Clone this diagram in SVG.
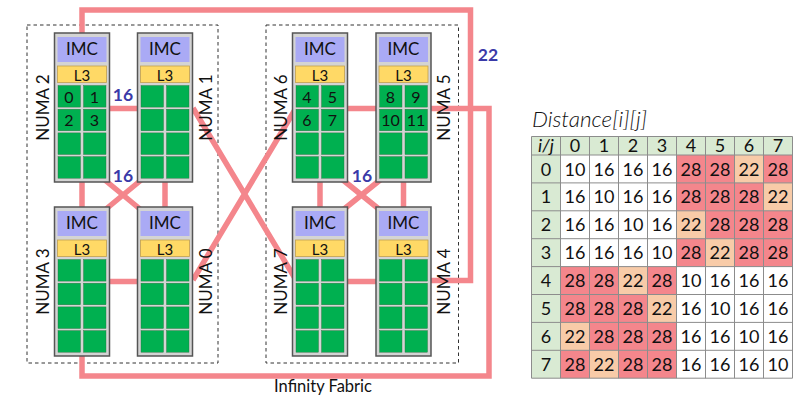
<svg xmlns="http://www.w3.org/2000/svg" xmlns:xlink="http://www.w3.org/1999/xlink" width="807" height="396" viewBox="0 0 807 396">
<style>
text{font-family:Lato,"Noto Sans","Liberation Sans",sans-serif;fill:#111}
.box{fill:none;stroke:#333;stroke-width:1;stroke-dasharray:3.5,3}
.link{fill:none;stroke:#f4868c;stroke-width:5.5}
.shell{fill:#d4d4d4;stroke:#555;stroke-width:1.5}
.imc{fill:#aaaaf5}
.l3{fill:#ffd966;stroke:#c0a050;stroke-width:0.8}
.core{fill:#00b050;stroke:#2f6f3f;stroke-width:0.4}
.t-imc{font-size:17px;text-anchor:middle}
.t-l3{font-size:15px;text-anchor:middle}
.t-core{font-size:16px;text-anchor:middle}
.numa{font-size:17px;text-anchor:middle}
.w{font-size:17.5px;font-weight:bold;fill:#3a3aa8;text-anchor:middle}
.hd{fill:#d9ead3}
.rd{fill:#f4868c}
.pc{fill:#f8cba8}
.grid{stroke:#8c8c8c;stroke-width:1}
.tv{font-size:18px;text-anchor:middle}
</style>
<defs>
<g id="node">
<rect class="shell" x="0" y="0" width="55" height="149"/>
<rect class="imc" x="3" y="4" width="49" height="25"/>
<rect class="l3" x="3" y="33" width="49" height="16.5"/>
<rect class="core" x="3.5" y="52.5" width="22.5" height="21.6"/>
<rect class="core" x="29" y="52.5" width="22.5" height="21.6"/>
<rect class="core" x="3.5" y="76.2" width="22.5" height="21.6"/>
<rect class="core" x="29" y="76.2" width="22.5" height="21.6"/>
<rect class="core" x="3.5" y="99.9" width="22.5" height="21.6"/>
<rect class="core" x="29" y="99.9" width="22.5" height="21.6"/>
<rect class="core" x="3.5" y="123.6" width="22.5" height="21.6"/>
<rect class="core" x="29" y="123.6" width="22.5" height="21.6"/>
</g>
</defs>
<rect x="0" y="0" width="807" height="396" fill="#ffffff"/>

<g id="groups">
<rect class="box" x="27" y="25" width="191" height="338"/>
<rect class="box" x="266" y="25" width="192.5" height="338"/>
</g>

<g id="connectors">
<path class="link" d="M82 33 V10 H470.5 V280.5 H431"/>
<path class="link" d="M82 356 V376 H489 V108.5 H431"/>
<path class="link" d="M109 108.5 H138 M109 281.5 H138"/>
<path class="link" d="M82 182 V207 M165 182 V207"/>
<path class="link" d="M100 176 L146 214 M146 176 L100 214"/>
<path class="link" d="M193 108 L296 280 M296 108 L193 280"/>
<path class="link" d="M347 108.5 H377 M347 281.5 H377"/>
<path class="link" d="M320 182 V207 M403.5 182 V207"/>
<path class="link" d="M338 176 L385 214 M385 176 L338 214"/>
</g>

<g id="numa2">
<use xlink:href="#node" x="54.5" y="33"/>
<text class="t-imc" x="82" y="55">IMC</text>
<text class="t-l3" x="82" y="80.5">L3</text>
<text class="t-core" x="69" y="102.5">0</text><text class="t-core" x="94.5" y="102.5">1</text>
<text class="t-core" x="69" y="126">2</text><text class="t-core" x="94.5" y="126">3</text>
<text class="numa" transform="translate(48.5,107.5) rotate(-90)">NUMA 2</text>
</g>
<g id="numa1">
<use xlink:href="#node" x="137.5" y="33"/>
<text class="t-imc" x="165" y="55">IMC</text>
<text class="t-l3" x="165" y="80.5">L3</text>
<text class="numa" transform="translate(211.5,107.5) rotate(-90)">NUMA 1</text>
</g>
<g id="numa3">
<use xlink:href="#node" x="54.5" y="207"/>
<text class="t-imc" x="82" y="229">IMC</text>
<text class="t-l3" x="82" y="254.5">L3</text>
<text class="numa" transform="translate(48.5,281.5) rotate(-90)">NUMA 3</text>
</g>
<g id="numa0">
<use xlink:href="#node" x="137.5" y="207"/>
<text class="t-imc" x="165" y="229">IMC</text>
<text class="t-l3" x="165" y="254.5">L3</text>
<text class="numa" transform="translate(211.5,281.5) rotate(-90)">NUMA 0</text>
</g>
<g id="numa6">
<use xlink:href="#node" x="292.5" y="33"/>
<text class="t-imc" x="320" y="55">IMC</text>
<text class="t-l3" x="320" y="80.5">L3</text>
<text class="t-core" x="307" y="102.5">4</text><text class="t-core" x="332.5" y="102.5">5</text>
<text class="t-core" x="307" y="126">6</text><text class="t-core" x="332.5" y="126">7</text>
<text class="numa" transform="translate(287,107.5) rotate(-90)">NUMA 6</text>
</g>
<g id="numa5">
<use xlink:href="#node" x="376" y="33"/>
<text class="t-imc" x="403.5" y="55">IMC</text>
<text class="t-l3" x="403.5" y="80.5">L3</text>
<text class="t-core" x="390.5" y="102.5">8</text><text class="t-core" x="416" y="102.5">9</text>
<text class="t-core" x="390.5" y="126">10</text><text class="t-core" x="416" y="126">11</text>
<text class="numa" transform="translate(450,107.5) rotate(-90)">NUMA 5</text>
</g>
<g id="numa7">
<use xlink:href="#node" x="292.5" y="207"/>
<text class="t-imc" x="320" y="229">IMC</text>
<text class="t-l3" x="320" y="254.5">L3</text>
<text class="numa" transform="translate(287,281.5) rotate(-90)">NUMA 7</text>
</g>
<g id="numa4">
<use xlink:href="#node" x="376" y="207"/>
<text class="t-imc" x="403.5" y="229">IMC</text>
<text class="t-l3" x="403.5" y="254.5">L3</text>
<text class="numa" transform="translate(450,281.5) rotate(-90)">NUMA 4</text>
</g>

<g id="labels">
<text class="w" x="123" y="100.5">16</text>
<text class="w" x="123" y="182">16</text>
<text class="w" x="362" y="182">16</text>
<text class="w" x="488" y="61">22</text>
<text x="323" y="392" font-size="16.5" text-anchor="middle">Infinity Fabric</text>
</g>

<g id="table">
<text x="532" y="127" font-size="22.5" font-style="italic" font-weight="300">Distance[i][j]</text>
<rect class="hd" x="531.5" y="136.5" width="261" height="18.5"/>
<rect class="hd" x="531.5" y="155" width="29" height="223.2"/>
<rect class="rd" x="676.5" y="155" width="58" height="27.9"/><rect class="pc" x="734.5" y="155" width="29" height="27.9"/><rect class="rd" x="763.5" y="155" width="29" height="27.9"/>
<rect class="rd" x="676.5" y="182.9" width="87" height="27.9"/><rect class="pc" x="763.5" y="182.9" width="29" height="27.9"/>
<rect class="pc" x="676.5" y="210.8" width="29" height="27.9"/><rect class="rd" x="705.5" y="210.8" width="87" height="27.9"/>
<rect class="rd" x="676.5" y="238.7" width="29" height="27.9"/><rect class="pc" x="705.5" y="238.7" width="29" height="27.9"/><rect class="rd" x="734.5" y="238.7" width="58" height="27.9"/>
<rect class="rd" x="560.5" y="266.6" width="58" height="27.9"/><rect class="pc" x="618.5" y="266.6" width="29" height="27.9"/><rect class="rd" x="647.5" y="266.6" width="29" height="27.9"/>
<rect class="rd" x="560.5" y="294.5" width="87" height="27.9"/><rect class="pc" x="647.5" y="294.5" width="29" height="27.9"/>
<rect class="pc" x="560.5" y="322.4" width="29" height="27.9"/><rect class="rd" x="589.5" y="322.4" width="87" height="27.9"/>
<rect class="rd" x="560.5" y="350.3" width="29" height="27.9"/><rect class="pc" x="589.5" y="350.3" width="29" height="27.9"/><rect class="rd" x="618.5" y="350.3" width="58" height="27.9"/>
<path class="grid" d="M531.5 136.5 H792.5 M531.5 155 H792.5 M531.5 182.9 H792.5 M531.5 210.8 H792.5 M531.5 238.7 H792.5 M531.5 266.6 H792.5 M531.5 294.5 H792.5 M531.5 322.4 H792.5 M531.5 350.3 H792.5 M531.5 378.2 H792.5 M531.5 136.5 V378.2 M560.5 136.5 V378.2 M589.5 136.5 V378.2 M618.5 136.5 V378.2 M647.5 136.5 V378.2 M676.5 136.5 V378.2 M705.5 136.5 V378.2 M734.5 136.5 V378.2 M763.5 136.5 V378.2 M792.5 136.5 V378.2"/>
<text x="546" y="152" font-style="italic" class="tv">i/j</text>
<text class="tv" y="152"><tspan x="575">0</tspan><tspan x="604">1</tspan><tspan x="633">2</tspan><tspan x="662">3</tspan><tspan x="691">4</tspan><tspan x="720">5</tspan><tspan x="749">6</tspan><tspan x="778">7</tspan></text>
<text class="tv" x="546" y="175.5">0</text><text class="tv" x="546" y="203.4">1</text><text class="tv" x="546" y="231.3">2</text><text class="tv" x="546" y="259.2">3</text><text class="tv" x="546" y="287.1">4</text><text class="tv" x="546" y="315">5</text><text class="tv" x="546" y="342.9">6</text><text class="tv" x="546" y="370.8">7</text>
<text class="tv" y="175.5"><tspan x="575">10</tspan><tspan x="604">16</tspan><tspan x="633">16</tspan><tspan x="662">16</tspan><tspan x="691">28</tspan><tspan x="720">28</tspan><tspan x="749">22</tspan><tspan x="778">28</tspan></text>
<text class="tv" y="203.4"><tspan x="575">16</tspan><tspan x="604">10</tspan><tspan x="633">16</tspan><tspan x="662">16</tspan><tspan x="691">28</tspan><tspan x="720">28</tspan><tspan x="749">28</tspan><tspan x="778">22</tspan></text>
<text class="tv" y="231.3"><tspan x="575">16</tspan><tspan x="604">16</tspan><tspan x="633">10</tspan><tspan x="662">16</tspan><tspan x="691">22</tspan><tspan x="720">28</tspan><tspan x="749">28</tspan><tspan x="778">28</tspan></text>
<text class="tv" y="259.2"><tspan x="575">16</tspan><tspan x="604">16</tspan><tspan x="633">16</tspan><tspan x="662">10</tspan><tspan x="691">28</tspan><tspan x="720">22</tspan><tspan x="749">28</tspan><tspan x="778">28</tspan></text>
<text class="tv" y="287.1"><tspan x="575">28</tspan><tspan x="604">28</tspan><tspan x="633">22</tspan><tspan x="662">28</tspan><tspan x="691">10</tspan><tspan x="720">16</tspan><tspan x="749">16</tspan><tspan x="778">16</tspan></text>
<text class="tv" y="315"><tspan x="575">28</tspan><tspan x="604">28</tspan><tspan x="633">28</tspan><tspan x="662">22</tspan><tspan x="691">16</tspan><tspan x="720">10</tspan><tspan x="749">16</tspan><tspan x="778">16</tspan></text>
<text class="tv" y="342.9"><tspan x="575">22</tspan><tspan x="604">28</tspan><tspan x="633">28</tspan><tspan x="662">28</tspan><tspan x="691">16</tspan><tspan x="720">16</tspan><tspan x="749">10</tspan><tspan x="778">16</tspan></text>
<text class="tv" y="370.8"><tspan x="575">28</tspan><tspan x="604">22</tspan><tspan x="633">28</tspan><tspan x="662">28</tspan><tspan x="691">16</tspan><tspan x="720">16</tspan><tspan x="749">16</tspan><tspan x="778">10</tspan></text>
</g>
</svg>
